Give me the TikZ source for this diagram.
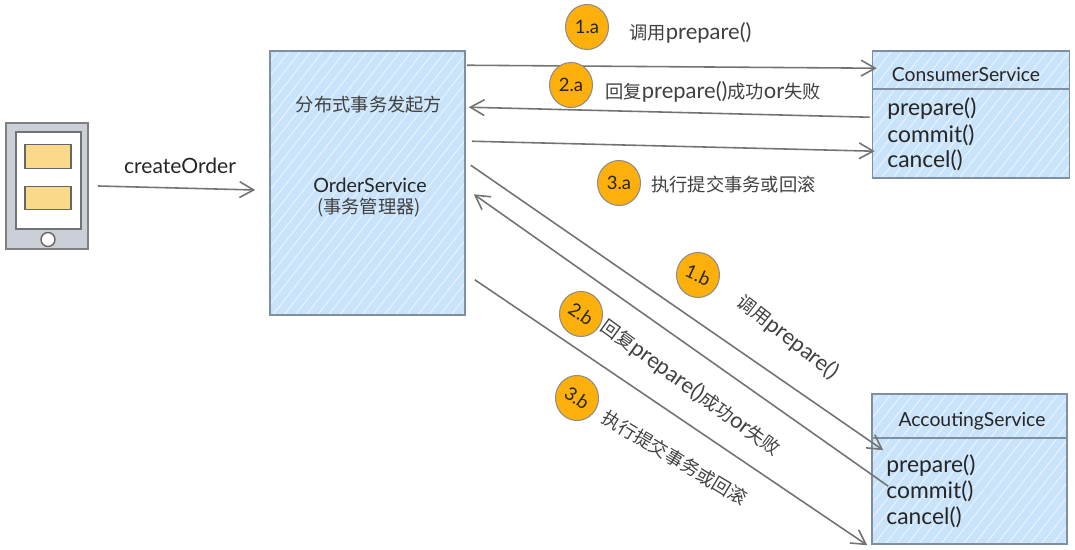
\documentclass[tikz,border=0pt]{standalone}
\usepackage{fontspec}
\setmainfont{Noto Sans CJK SC}
\newfontfamily\latinhand{Lato}
\usetikzlibrary{patterns.meta,arrows.meta,shapes.geometric}
\definecolor{boxblue}{HTML}{C9E3FA}
\definecolor{boxline}{HTML}{7D8FA0}
\definecolor{stepfill}{HTML}{FDB00B}
\definecolor{phonegrey}{HTML}{CBD0D8}
\definecolor{cardfill}{HTML}{FBD98A}
\newcommand{\lat}[1]{{\latinhand\fontsize{12.5}{13}\selectfont #1}}
\tikzset{
  svcbox/.style={draw=boxline,fill=boxblue,line width=0.9pt,inner sep=0pt,
    postaction={pattern={Lines[angle=52,distance=5pt,line width=0.6pt]},pattern color=white!55!boxblue},
    postaction={draw=boxline,line width=0.9pt}},
  stepmark/.style={draw=black!45,fill=stepfill,ellipse,line width=0.6pt,minimum width=0.86cm,minimum height=0.9cm,inner sep=0pt,font=\latinhand\fontsize{10.5}{11}\selectfont,text=black!85},
  msg/.style={draw=black!55,line width=0.9pt,-{Straight Barb[length=8pt,width=9pt]}},
  lbl/.style={font=\fontsize{10.4}{12}\selectfont,text=black!75,inner sep=0pt},
  svcname/.style={inner sep=0pt,text=black!85,font=\latinhand\fontsize{11}{11}\selectfont},
  methodtxt/.style={font=\latinhand\fontsize{13}{13}\selectfont,text=black!85,inner sep=0pt,anchor=west},
  divider/.style={draw=boxline,line width=0.9pt},
  card/.style={draw=black!60,fill=cardfill,line width=0.7pt,minimum width=0.92cm,minimum height=0.47cm,inner sep=0pt},
}
\begin{document}
\begin{tikzpicture}[x=0.02cm,y=-0.02cm]
\useasboundingbox (0,0) rectangle (1075,550);
% phone
\node[draw=black!50,fill=phonegrey,line width=0.9pt,minimum width=1.64cm,minimum height=2.52cm,inner sep=0pt] (phone) at (47,186) {};
\node[draw=black!55,fill=white,line width=0.9pt,minimum width=1.3cm,minimum height=1.94cm,inner sep=0pt] (screen) at (48.5,180.5) {};
\node[card] (cardTop) at (48,156.5) {};
\node[card] (cardBottom) at (48,198) {};
\node[draw=black!60,fill=white,line width=0.8pt,circle,minimum size=0.28cm,inner sep=0pt] (homeKey) at (48,239.5) {};
% order service
\node[svcbox,minimum width=3.9cm,minimum height=5.28cm] (orderBox) at (367.5,183) {};
\node[lbl] (orderTitle) at (369,105) {分布式事务发起方};
\node[svcname,font=\latinhand\fontsize{11.2}{11}\selectfont] (orderName) at (370,185) {OrderService};
\node[lbl] (orderMgr) at (369,208) {(事务管理器)};
% consumer service
\node[svcbox,minimum width=3.94cm,minimum height=2.54cm] (consumerBox) at (971,114.5) {};
\draw[divider] (consumerBox.west |- 0,89) -- (consumerBox.east |- 0,89);
\node[svcname] (consumerName) at (966,75) {ConsumerService};
\node[methodtxt] (consumerPrepare) at (887,109) {prepare()};
\node[methodtxt] (consumerCommit) at (887,135) {commit()};
\node[methodtxt] (consumerCancel) at (887,160) {cancel()};
% accounting service
\node[svcbox,minimum width=3.9cm,minimum height=3cm] (accountBox) at (969.5,469) {};
\draw[divider] (accountBox.west |- 0,438) -- (accountBox.east |- 0,438);
\node[svcname] (accountName) at (972,421) {AccoutingService};
\node[methodtxt] (accountPrepare) at (886,466) {prepare()};
\node[methodtxt] (accountCommit) at (886,491) {commit()};
\node[methodtxt] (accountCancel) at (886,517) {cancel()};
% connectors
\node[svcname,font=\latinhand\fontsize{12}{12}\selectfont] (createLbl) at (180,166) {createOrder};
\draw[msg] ([shift={(9,0)}]phone.east) -- ([shift={(-14,7)}]orderBox.west);
\draw[msg] ([shift={(1,15)}]orderBox.north east) -- ([shift={(5,18)}]consumerBox.north west);
\draw[msg] ([shift={(-2,67)}]consumerBox.north west) -- ([shift={(3,57)}]orderBox.north east);
\draw[msg] ([shift={(6,91)}]orderBox.north east) -- ([shift={(3,101)}]consumerBox.north west);
\draw[msg] ([shift={(5,115)}]orderBox.north east) -- ([shift={(12,57)}]accountBox.north west);
\draw[msg] ([shift={(17,93)}]accountBox.north west) -- ([shift={(8,144)}]orderBox.north east);
\draw[msg] ([shift={(9,-36)}]orderBox.south east) -- ([shift={(-4,152)}]accountBox.north west);
% step marks
\node[stepmark] (s1a) at (587,27) {1.a};
\node[stepmark] (s2a) at (571,85) {2.a};
\node[stepmark] (s3a) at (619,183) {3.a};
\node[stepmark] (s1b) at (698,275) {\rotatebox{-25}{1.b}};
\node[stepmark] (s2b) at (581,314) {\rotatebox{-35}{2.b}};
\node[stepmark] (s3b) at (577,398) {\rotatebox{-35}{3.b}};
% labels
\node[lbl,anchor=west] (t1a) at (629,33) {调用\lat{prepare()}};
\node[lbl,anchor=west] (t2a) at (605,92) {回复\lat{prepare()}成功\lat{or}失败};
\node[lbl,anchor=west] (t3a) at (651,185) {执行提交事务或回滚};
\node[lbl,rotate=-38] (t1b) at (788,337) {调用\lat{prepare()}};
\node[lbl,rotate=-36] (t2b) at (691,388) {回复\lat{prepare()}成功\lat{or}失败};
\node[lbl,rotate=-31] (t3b) at (675,458) {执行提交事务或回滚};
\end{tikzpicture}
\end{document}
